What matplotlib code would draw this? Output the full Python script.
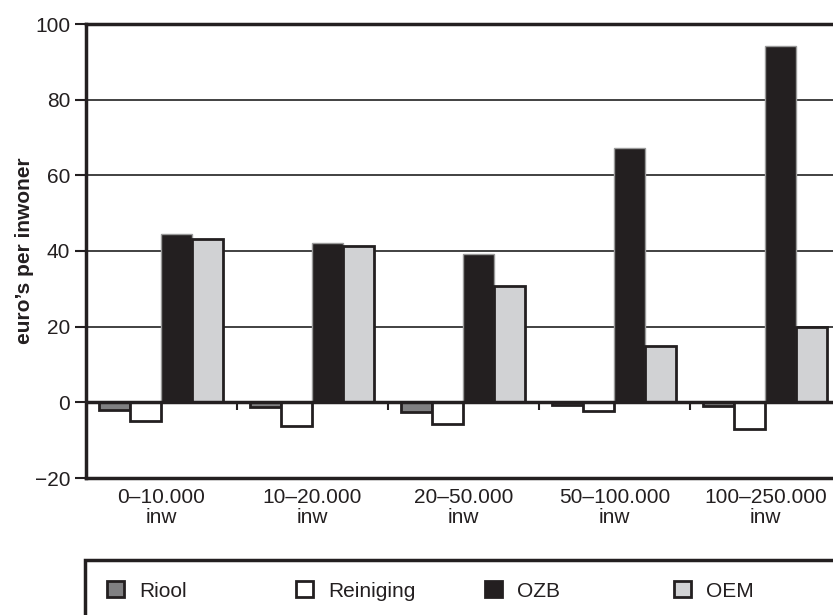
import matplotlib
matplotlib.use("Agg")
import matplotlib.pyplot as plt
import numpy as np
from matplotlib.patches import Rectangle, Patch

plt.rcParams['font.family'] = ['Liberation Sans', 'DejaVu Sans']

categories = ["0\u201310.000\ninw", "10\u201320.000\ninw", "20\u201350.000\ninw",
              "50\u2013100.000\ninw", "100\u2013250.000\ninw"]
series_names = ["Riool", "Reiniging", "OZB", "OEM"]
riool = [-1.9, -1.2, -2.6, -0.7, -1.0]
reiniging = [-5.0, -6.3, -5.7, -2.2, -7.1]
ozb = [44.5, 42.1, 39.3, 67.1, 94.2]
oem = [43.3, 41.4, 30.8, 14.9, 19.9]
yticks = [-20, 0, 20, 40, 60, 80, 100]

dark = '#231f20'
fills = ['#808082', '#ffffff', dark, '#d1d2d4']
edges = [dark, dark, '#9a9a9a', dark]
lws = [2.0, 2.0, 1.0, 2.0]

W, H = 833, 615
fig = plt.figure(figsize=(W / 100, H / 100), dpi=100)
left, right, top, bottom = 86, 841, 24, 478
ax = fig.add_axes([left / W, 1 - bottom / H, (right - left) / W, (bottom - top) / H])

x = np.arange(len(categories))
bw = 0.205
data = [riool, reiniging, ozb, oem]
for k, (vals, fc, ec, lw) in enumerate(zip(data, fills, edges, lws)):
    ax.bar(x + (k - 1.5) * bw - 0.004, vals, width=bw, color=fc, edgecolor=ec,
           linewidth=lw, zorder=3)

ax.set_xlim(-0.5, len(categories) - 0.5)
ax.set_ylim(-20, 100)
ax.set_yticks(yticks)
ax.set_yticklabels(["\u221220" if v < 0 else str(v) for v in yticks], fontsize=15, color=dark)
ax.tick_params(axis='y', direction='out', length=8, width=1.5, pad=3.5, color=dark)
ax.set_xticks(x)
ax.set_xticklabels(categories, fontsize=15, color=dark, linespacing=1.1)
ax.tick_params(axis='x', length=0, pad=7)

for v in [20, 40, 60, 80]:
    ax.axhline(v, color='#333333', linewidth=1.3, zorder=1)
ax.axhline(0, color=dark, linewidth=2.5, zorder=4)
# category boundary marks below zero line
ax.vlines(x[1:] - 0.5, -2.1, 0, color=dark, linewidth=1.5, zorder=4)

for s in ['left', 'top', 'bottom']:
    ax.spines[s].set_linewidth(2.5)
    ax.spines[s].set_color(dark)
ax.spines['right'].set_visible(False)

fig.text(25 / W, 1 - 251 / H, "euro\u2019s per inwoner", rotation=90, ha='center',
         va='center', fontsize=15, fontweight='bold', color=dark)

# legend frame
fig.patches.append(Rectangle((85 / W, -0.1), 1.1, (615 - 560) / H + 0.1,
                             transform=fig.transFigure, fill=False,
                             edgecolor=dark, linewidth=2.5, clip_on=False))
leg_x = [107, 296, 485, 674]
for name, fc, ec, lx in zip(series_names, fills, edges, leg_x):
    h = Patch(facecolor=fc, edgecolor=dark if name != 'OZB' else dark, linewidth=2)
    lg = fig.legend([h], [name], loc='center left',
                    bbox_to_anchor=(lx / W, 1 - 591 / H), frameon=False,
                    fontsize=15, handlelength=0.8, handleheight=0.8,
                    handletextpad=0.75, borderpad=0, borderaxespad=0)
    for t in lg.get_texts():
        t.set_color(dark)

fig.savefig("out.png", dpi=100)
